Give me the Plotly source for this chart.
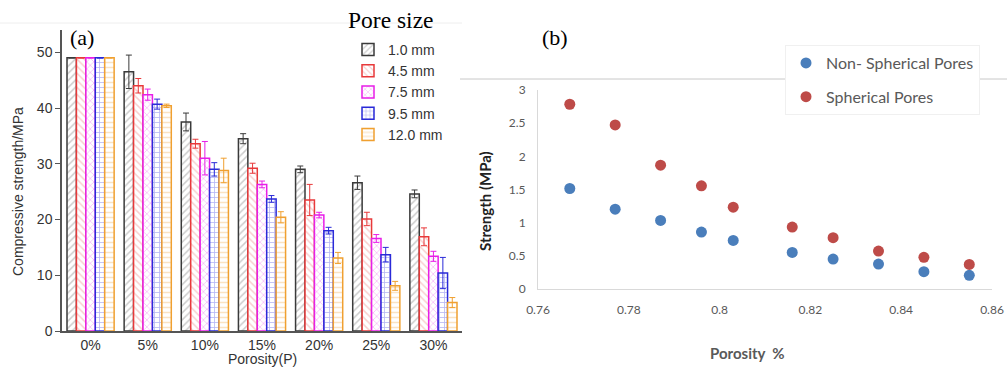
import plotly.graph_objects as go

# ---------------- Panel (a) data ----------------
porosity_labels = ["0%", "5%", "10%", "15%", "20%", "25%", "30%"]
pore_sizes = ["1.0 mm", "4.5 mm", "7.5 mm", "9.5 mm", "12.0 mm"]

strength_1_0 = [49.0, 46.5, 37.5, 34.5, 29.0, 26.6, 24.6]
strength_4_5 = [49.0, 44.0, 33.6, 29.2, 23.5, 20.1, 16.9]
strength_7_5 = [49.0, 42.4, 31.0, 26.3, 20.8, 16.6, 13.4]
strength_9_5 = [49.0, 40.7, 29.0, 23.7, 18.0, 13.7, 10.4]
strength_12_0 = [49.0, 40.4, 28.8, 20.4, 13.1, 8.1, 5.1]

err_1_0 = [0.0, 3.0, 1.6, 0.9, 0.6, 1.2, 0.7]
err_4_5 = [0.0, 1.3, 0.8, 0.9, 2.8, 1.2, 1.6]
err_7_5 = [0.0, 1.0, 3.0, 0.6, 0.5, 0.7, 0.9]
err_9_5 = [0.0, 0.9, 1.2, 0.6, 0.6, 1.3, 2.8]
err_12_0 = [0.0, 0.3, 2.2, 1.0, 1.0, 0.8, 0.9]

# ---------------- Panel (b) data ----------------
porosity_b = [0.767, 0.777, 0.787, 0.796, 0.803, 0.816, 0.825, 0.835, 0.845, 0.855]
non_spherical = [1.515, 1.204, 1.034, 0.858, 0.733, 0.552, 0.452, 0.376, 0.261, 0.206]
spherical = [2.785, 2.474, 1.867, 1.555, 1.234, 0.933, 0.773, 0.572, 0.477, 0.371]

series_a = [
    (pore_sizes[0], strength_1_0, err_1_0, "#3a3a3a", "#9a9a9a", "/"),
    (pore_sizes[1], strength_4_5, err_4_5, "#e8393a", "#f2a0a0", "\\"),
    (pore_sizes[2], strength_7_5, err_7_5, "#e81ee8", "#f080f0", "x"),
    (pore_sizes[3], strength_9_5, err_9_5, "#2a2ad8", "#7070e8", "+"),
    (pore_sizes[4], strength_12_0, err_12_0, "#f0a030", "#f5c888", "-"),
]

fig = go.Figure()

for name, vals, errs, line_c, hatch_c, shape in series_a:
    fig.add_trace(go.Bar(
        x=porosity_labels, y=vals, name=name,
        xaxis="x", yaxis="y", legend="legend",
        marker=dict(color="white", line=dict(color=line_c, width=1.5),
                    pattern=dict(shape=shape, fgcolor=hatch_c, bgcolor="white",
                                 size=5, solidity=0.3)),
        error_y=dict(type="data", array=errs, visible=True, color=line_c,
                     thickness=1, width=3),
    ))

fig.add_trace(go.Scatter(
    x=porosity_b, y=non_spherical, mode="markers", name="Non- Spherical Pores",
    xaxis="x2", yaxis="y2", legend="legend2", legendgroup="ns",
    marker=dict(color="#4a7ebb", size=11),
))
fig.add_trace(go.Scatter(
    x=porosity_b, y=spherical, mode="markers", name="Spherical Pores",
    xaxis="x2", yaxis="y2", legend="legend2", legendgroup="s",
    marker=dict(color="#be4b48", size=11),
))

W, H = 1007, 369

fig.update_layout(
    width=W, height=H,
    margin=dict(l=0, r=0, t=0, b=0, autoexpand=False),
    paper_bgcolor="white", plot_bgcolor="white",
    barmode="group", bargap=0.175, bargroupgap=0,
    showlegend=True,
    xaxis=dict(domain=[62 / W, 462 / W], anchor="y", automargin=False,
               range=[-0.5, 6.5], showline=True, linecolor="#555", linewidth=1.5,
               ticks="", showgrid=False, zeroline=False,
               tickfont=dict(family="Liberation Sans, Arial", size=14, color="#333")),
    yaxis=dict(domain=[1 - 331 / H, 1 - 30 / H], anchor="x", automargin=False,
               range=[0, 54], tickvals=[0, 10, 20, 30, 40, 50],
               showline=True, linecolor="#555", linewidth=1.5,
               ticks="outside", ticklen=5, tickcolor="#555", showgrid=False, zeroline=False,
               tickfont=dict(family="Liberation Sans, Arial", size=14, color="#333")),
    xaxis2=dict(domain=[538 / W, 992 / W], anchor="y2", automargin=False,
                range=[0.76, 0.86], tickvals=[0.76, 0.78, 0.8, 0.82, 0.84, 0.86],
                ticktext=["0.76", "0.78", "0.8", "0.82", "0.84", "0.86"],
                showline=True, linecolor="#d9d9d9", linewidth=1, ticks="",
                showgrid=False, zeroline=False, ticklabelstandoff=10,
                tickfont=dict(family="Lato", size=12, color="#595959")),
    yaxis2=dict(domain=[1 - 289 / H, 1 - 90 / H], anchor="x2", automargin=False,
                range=[0, 3], tickvals=[0, 0.5, 1, 1.5, 2, 2.5, 3],
                ticktext=["0", "0.5", "1", "1.5", "2", "2.5", "3"],
                showline=True, linecolor="#d9d9d9", linewidth=1, ticks="",
                showgrid=False, zeroline=False, ticklabelstandoff=9,
                tickfont=dict(family="Lato", size=12, color="#595959")),
    legend=dict(x=348 / W, y=1 - 34 / H, xanchor="left", yanchor="top",
                bgcolor="rgba(255,255,255,0)", borderwidth=0,
                font=dict(family="Liberation Sans, Arial", size=14, color="#333"),
                tracegroupgap=0),
    legend2=dict(x=785 / W, y=1 - 45 / H, xanchor="left", yanchor="top",
                 bgcolor="white", bordercolor="#f0f0f0", borderwidth=1,
                 font=dict(family="Lato", size=16, color="#595959"),
                 tracegroupgap=10),
    shapes=[
        dict(type="line", xref="paper", yref="paper", x0=0, x1=462 / W,
             y0=1 - 23 / H, y1=1 - 23 / H, line=dict(color="#eeeeee", width=1)),
        dict(type="line", xref="paper", yref="paper", x0=460 / W, x1=1,
             y0=1 - 79 / H, y1=1 - 79 / H, line=dict(color="#c8c8c8", width=1)),
    ],
    annotations=[
        dict(text="(a)", x=68 / W, y=1 - 37 / H, xref="paper", yref="paper",
             xanchor="left", yanchor="middle", showarrow=False,
             font=dict(family="Liberation Serif, Times New Roman", size=22, color="black")),
        dict(text="Pore size", x=346 / W, y=1 - 20 / H, xref="paper", yref="paper",
             xanchor="left", yanchor="middle", showarrow=False,
             font=dict(family="Liberation Serif, Times New Roman", size=23.5, color="black")),
        dict(text="(b)", x=540 / W, y=1 - 37 / H, xref="paper", yref="paper",
             xanchor="left", yanchor="middle", showarrow=False,
             font=dict(family="Liberation Serif, Times New Roman", size=22, color="black")),
        dict(text="Compressive strength/MPa", x=18 / W, y=1 - 192 / H, xref="paper", yref="paper",
             xanchor="center", yanchor="middle", textangle=-90, showarrow=False,
             font=dict(family="Liberation Sans, Arial", size=14, color="#333")),
        dict(text="Porosity(P)", x=262 / W, y=1 - 359 / H, xref="paper", yref="paper",
             xanchor="center", yanchor="middle", showarrow=False,
             font=dict(family="Liberation Sans, Arial", size=14, color="#333")),
        dict(text="<b>Strength (MPa)</b>", x=485 / W, y=1 - 201 / H, xref="paper", yref="paper",
             xanchor="center", yanchor="middle", textangle=-90, showarrow=False,
             font=dict(family="Lato", size=15, color="#222")),
        dict(text="<b>Porosity  %</b>", x=747 / W, y=1 - 353 / H, xref="paper", yref="paper",
             xanchor="center", yanchor="middle", showarrow=False,
             font=dict(family="Lato", size=15, color="#595959")),
    ],
)

fig.write_html("out.html")
